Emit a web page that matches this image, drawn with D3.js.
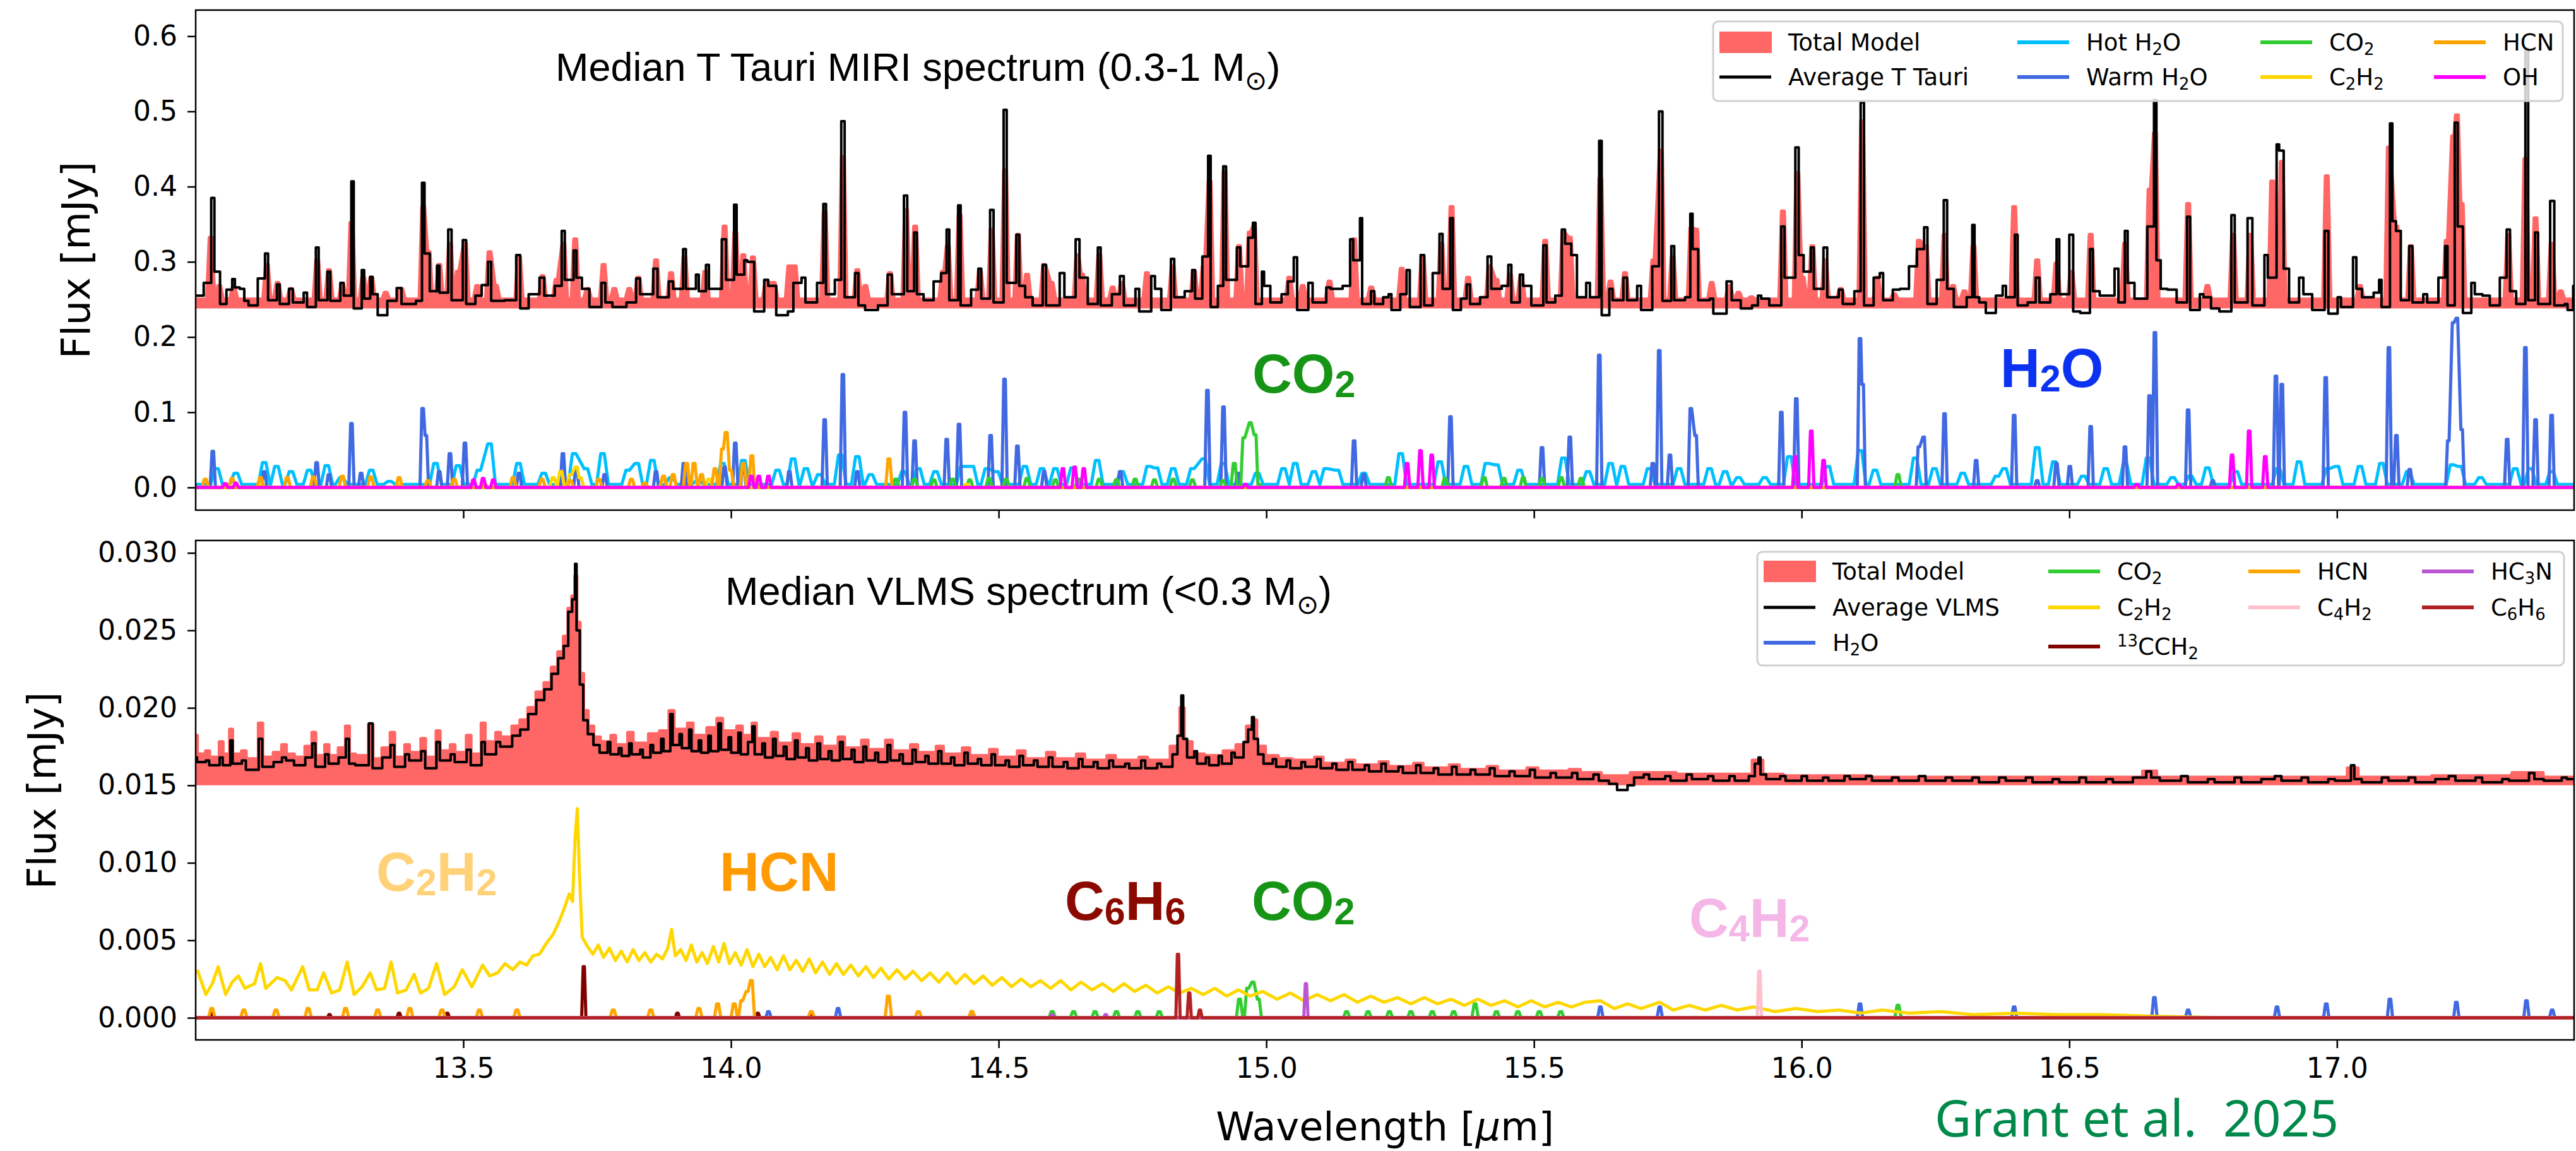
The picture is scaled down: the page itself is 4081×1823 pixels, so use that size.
<!DOCTYPE html>
<html>
<head>
<meta charset="utf-8">
<script src="https://d3js.org/d3.v7.min.js"></script>
<style>
  body { margin: 0; background: #fff; }
  svg { display: block; }
</style>
</head>
<body>
<script>
// ---------- data (wavelength in micron, flux in mJy) ----------
var xTicks = [13.5, 14.0, 14.5, 15.0, 15.5, 16.0, 16.5, 17.0];
var yTicksTop = [0.0, 0.1, 0.2, 0.3, 0.4, 0.5, 0.6];
var yTicksBot = [0.000, 0.005, 0.010, 0.015, 0.020, 0.025, 0.030];

// average T Tauri spectrum (black)
var tTauriObs = [
 [13.000,0.255],[13.020,0.272],[13.032,0.385],[13.044,0.287],[13.050,0.244],[13.060,0.263],[13.071,0.277],[13.080,0.266],[13.089,0.264],[13.096,0.248],[13.107,0.242],[13.119,0.278],[13.133,0.311],[13.142,0.249],[13.155,0.270],[13.163,0.244],[13.178,0.264],[13.192,0.246],[13.205,0.259],[13.217,0.240],[13.227,0.319],[13.238,0.249],[13.249,0.287],[13.259,0.248],[13.274,0.272],[13.284,0.255],[13.293,0.407],[13.302,0.238],[13.313,0.289],[13.320,0.251],[13.328,0.280],[13.338,0.257],[13.346,0.229],[13.362,0.248],[13.380,0.265],[13.398,0.244],[13.416,0.248],[13.425,0.405],[13.435,0.311],[13.444,0.261],[13.453,0.295],[13.462,0.259],[13.475,0.343],[13.487,0.249],[13.503,0.329],[13.512,0.244],[13.526,0.255],[13.537,0.269],[13.549,0.300],[13.561,0.248],[13.583,0.249],[13.604,0.309],[13.613,0.238],[13.625,0.257],[13.648,0.279],[13.661,0.255],[13.674,0.268],[13.687,0.341],[13.697,0.276],[13.709,0.315],[13.718,0.279],[13.732,0.264],[13.746,0.240],[13.762,0.272],[13.775,0.246],[13.789,0.240],[13.810,0.246],[13.827,0.278],[13.839,0.257],[13.860,0.291],[13.871,0.253],[13.888,0.274],[13.903,0.264],[13.913,0.317],[13.924,0.264],[13.938,0.283],[13.945,0.261],[13.956,0.296],[13.967,0.264],[13.988,0.330],[13.999,0.276],[14.008,0.376],[14.018,0.283],[14.027,0.302],[14.041,0.300],[14.050,0.234],[14.066,0.276],[14.080,0.268],[14.098,0.229],[14.109,0.234],
 [14.119,0.272],[14.136,0.279],[14.148,0.246],[14.165,0.272],[14.175,0.377],[14.185,0.257],[14.197,0.276],[14.209,0.487],[14.222,0.253],[14.235,0.285],[14.247,0.242],[14.261,0.236],[14.279,0.242],[14.297,0.283],[14.311,0.257],[14.327,0.388],[14.336,0.261],[14.344,0.339],[14.357,0.257],[14.368,0.249],[14.382,0.274],[14.396,0.285],[14.405,0.343],[14.416,0.249],[14.427,0.375],[14.435,0.242],[14.453,0.263],[14.465,0.291],[14.475,0.251],[14.487,0.369],[14.501,0.246],[14.512,0.502],[14.524,0.272],[14.536,0.336],[14.546,0.268],[14.560,0.253],[14.574,0.242],[14.585,0.296],[14.599,0.242],[14.619,0.285],[14.634,0.253],[14.647,0.330],[14.663,0.279],[14.677,0.244],[14.688,0.319],[14.698,0.242],[14.716,0.257],[14.730,0.281],[14.745,0.242],[14.759,0.264],[14.773,0.234],[14.789,0.281],[14.801,0.264],[14.812,0.236],[14.825,0.304],[14.837,0.253],[14.851,0.261],[14.865,0.289],[14.873,0.251],[14.883,0.307],[14.894,0.441],[14.902,0.240],[14.912,0.268],[14.922,0.427],[14.933,0.276],[14.949,0.319],[14.958,0.294],[14.969,0.332],[14.977,0.352],[14.988,0.244],[14.993,0.287],[15.004,0.268],[15.018,0.246],[15.032,0.257],[15.043,0.274],[15.054,0.306],[15.068,0.236],[15.082,0.272],[15.100,0.246],[15.116,0.266],[15.132,0.264],[15.146,0.268],[15.160,0.330],[15.169,0.302],[15.177,0.358],[15.185,0.244],[15.199,0.261],[15.210,0.244],[15.221,0.253],
 [15.231,0.257],[15.242,0.236],[15.253,0.257],[15.265,0.289],[15.277,0.240],[15.292,0.309],[15.304,0.242],[15.313,0.285],[15.327,0.337],[15.336,0.264],[15.346,0.358],[15.356,0.236],[15.366,0.251],[15.377,0.270],[15.391,0.244],[15.402,0.253],[15.417,0.307],[15.430,0.264],[15.443,0.268],[15.455,0.296],[15.466,0.246],[15.476,0.283],[15.491,0.268],[15.507,0.242],[15.521,0.322],[15.530,0.246],[15.543,0.255],[15.555,0.343],[15.567,0.324],[15.578,0.309],[15.587,0.253],[15.601,0.272],[15.615,0.253],[15.624,0.461],[15.634,0.229],[15.643,0.264],[15.658,0.249],[15.670,0.279],[15.686,0.249],[15.695,0.268],[15.715,0.236],[15.723,0.294],[15.737,0.500],[15.749,0.248],[15.759,0.321],[15.771,0.249],[15.786,0.253],[15.794,0.364],[15.803,0.317],[15.818,0.249],[15.832,0.251],[15.844,0.231],[15.865,0.274],[15.882,0.249],[15.899,0.238],[15.910,0.242],[15.921,0.255],[15.935,0.251],[15.953,0.242],[15.965,0.347],[15.977,0.279],[15.992,0.452],[16.002,0.309],[16.009,0.287],[16.020,0.319],[16.031,0.264],[16.044,0.319],[16.059,0.253],[16.073,0.263],[16.088,0.244],[16.102,0.261],[16.113,0.512],[16.127,0.242],[16.137,0.279],[16.149,0.285],[16.162,0.249],[16.173,0.263],[16.187,0.264],[16.205,0.294],[16.219,0.317],[16.232,0.346],[16.244,0.244],[16.255,0.276],[16.269,0.382],[16.280,0.264],[16.297,0.240],[16.312,0.253],[16.321,0.349],[16.329,0.253],
 [16.340,0.246],[16.356,0.232],[16.365,0.255],[16.379,0.268],[16.390,0.253],[16.401,0.336],[16.411,0.242],[16.426,0.246],[16.441,0.279],[16.454,0.246],[16.468,0.257],[16.479,0.330],[16.488,0.257],[16.504,0.336],[16.517,0.234],[16.531,0.232],[16.541,0.317],[16.553,0.261],[16.568,0.255],[16.590,0.291],[16.597,0.246],[16.606,0.341],[16.618,0.272],[16.633,0.251],[16.650,0.347],[16.661,0.515],[16.668,0.302],[16.679,0.264],[16.697,0.263],[16.711,0.246],[16.723,0.360],[16.734,0.236],[16.747,0.257],[16.761,0.253],[16.776,0.238],[16.793,0.234],[16.806,0.362],[16.818,0.246],[16.838,0.358],[16.854,0.242],[16.868,0.309],[16.879,0.279],[16.890,0.456],[16.898,0.448],[16.908,0.291],[16.918,0.246],[16.933,0.279],[16.950,0.257],[16.965,0.236],[16.981,0.341],[16.993,0.231],[17.004,0.253],[17.018,0.240],[17.034,0.306],[17.043,0.264],[17.058,0.253],[17.072,0.259],[17.081,0.276],[17.090,0.240],[17.102,0.484],[17.108,0.354],[17.117,0.341],[17.126,0.249],[17.138,0.321],[17.150,0.246],[17.165,0.257],[17.179,0.246],[17.193,0.279],[17.205,0.321],[17.211,0.242],[17.223,0.485],[17.233,0.347],[17.242,0.232],[17.254,0.272],[17.268,0.257],[17.283,0.255],[17.293,0.242],[17.308,0.279],[17.320,0.343],[17.333,0.261],[17.340,0.244],[17.356,0.583],[17.361,0.249],[17.373,0.339],[17.384,0.244],[17.403,0.381],[17.415,0.242],[17.429,0.244],[17.436,0.236],[17.443,0.268]
];

// total model, T Tauri: continuum level and line peaks
var tTauriModelCont = 0.250;
var tTauriModelPeaks = [
 [13.028,0.332],[13.044,0.268],[13.071,0.266],[13.133,0.296],[13.153,0.272],[13.178,0.264],[13.227,0.302],[13.249,0.289],[13.274,0.268],[13.291,0.352],[13.313,0.279],[13.328,0.279],[13.355,0.259],[13.384,0.264],[13.425,0.373],[13.435,0.313],[13.455,0.296],[13.475,0.324],[13.490,0.287],[13.503,0.324],[13.526,0.268],[13.549,0.313],[13.561,0.268],[13.604,0.306],[13.648,0.281],[13.674,0.276],[13.687,0.324],[13.709,0.330],[13.732,0.264],[13.762,0.296],[13.782,0.264],[13.810,0.264],[13.827,0.279],[13.860,0.302],[13.888,0.285],[13.913,0.306],[13.952,0.287],[13.988,0.347],[14.008,0.339],[14.023,0.309],[14.041,0.306],[14.066,0.272],[14.080,0.272],[14.109,0.294],
 [14.119,0.294],[14.175,0.366],[14.209,0.439],[14.236,0.289],[14.251,0.268],[14.297,0.285],[14.327,0.369],[14.344,0.347],[14.396,0.287],[14.405,0.321],[14.427,0.362],[14.465,0.287],[14.487,0.343],[14.512,0.422],[14.536,0.336],[14.553,0.283],[14.585,0.296],[14.599,0.272],[14.647,0.309],[14.656,0.283],[14.688,0.309],[14.713,0.266],[14.730,0.272],[14.777,0.285],[14.825,0.294],[14.865,0.287],[14.883,0.294],[14.894,0.407],[14.922,0.420],[14.949,0.321],[14.969,0.339],[14.977,0.347],[15.043,0.279],[15.068,0.268],[15.118,0.274],[15.164,0.330],[15.196,0.266],
 [15.253,0.291],[15.292,0.306],[15.327,0.324],[15.346,0.373],[15.377,0.279],[15.417,0.294],[15.430,0.276],[15.455,0.283],[15.476,0.279],[15.521,0.328],[15.555,0.339],[15.567,0.332],[15.624,0.411],[15.643,0.274],[15.670,0.285],[15.723,0.302],[15.737,0.448],[15.759,0.306],[15.794,0.345],[15.803,0.343],[15.832,0.272],[15.865,0.268],[15.882,0.259],[15.906,0.253],[15.965,0.367],[15.992,0.418],[16.002,0.279],[16.020,0.321],[16.044,0.302],[16.073,0.264],[16.113,0.487],[16.141,0.279],[16.173,0.257],[16.219,0.328],[16.232,0.321],[16.267,0.336],[16.283,0.268],[16.304,0.261],[16.321,0.321],
 [16.397,0.373],[16.440,0.302],[16.476,0.298],[16.504,0.287],[16.540,0.336],[16.604,0.324],[16.650,0.396],[16.660,0.471],[16.722,0.377],[16.758,0.268],[16.806,0.336],[16.838,0.336],[16.879,0.407],[16.897,0.433],[16.981,0.414],[17.043,0.268],[17.097,0.452],[17.111,0.347],[17.138,0.321],[17.205,0.328],[17.217,0.467],[17.224,0.495],[17.233,0.377],[17.320,0.336],[17.352,0.437],[17.371,0.358],[17.401,0.324],[17.418,0.261]
];

// T Tauri slab components (line peaks above a floor)
var hotH2OFloor = 0.004;
var hotH2O = [
 [13.039,0.025],[13.075,0.019],[13.128,0.033],[13.151,0.028],[13.178,0.021],[13.212,0.023],[13.245,0.029],[13.272,0.013],[13.328,0.023],[13.362,0.008],[13.448,0.032],[13.490,0.029],[13.529,0.023],[13.549,0.058],[13.603,0.032],[13.650,0.019],[13.707,0.045],[13.729,0.025],[13.760,0.045],[13.807,0.023],[13.824,0.032],[13.853,0.036],[13.888,0.013],[13.938,0.009],[13.984,0.032],[14.023,0.036],[14.087,0.023],
 [14.116,0.038],[14.140,0.025],[14.165,0.017],[14.204,0.043],[14.236,0.041],[14.261,0.017],[14.322,0.021],[14.350,0.025],[14.382,0.021],[14.432,0.028],[14.450,0.028],[14.478,0.025],[14.496,0.021],[14.549,0.028],[14.581,0.025],[14.606,0.025],[14.638,0.026],[14.684,0.036],[14.730,0.021],[14.780,0.028],[14.794,0.026],[14.826,0.025],[14.862,0.025],[14.883,0.038],[14.919,0.032],[14.983,0.019],[15.032,0.025],[15.054,0.032],[15.089,0.021],[15.111,0.025],[15.132,0.023],[15.182,0.019],
 [15.251,0.045],[15.324,0.034],[15.373,0.028],[15.412,0.032],[15.430,0.030],[15.473,0.023],[15.555,0.039],[15.601,0.021],[15.643,0.032],[15.666,0.028],[15.715,0.025],[15.771,0.025],[15.828,0.025],[15.857,0.021],[15.882,0.013],[15.931,0.013],[15.977,0.041],[16.049,0.028],[16.109,0.049],[16.137,0.023],[16.212,0.039],[16.248,0.025],[16.301,0.019],
 [16.365,0.015],[16.379,0.025],[16.440,0.053],[16.472,0.034],[16.526,0.015],[16.568,0.025],[16.604,0.032],[16.647,0.039],[16.693,0.013],[16.726,0.015],[16.758,0.026],[16.811,0.021],[16.890,0.025],[16.929,0.034],[16.983,0.025],[17.000,0.028],[17.043,0.028],[17.083,0.032],[17.133,0.021],[17.215,0.030],[17.229,0.028],[17.268,0.013],[17.333,0.025],[17.361,0.025],[17.401,0.021]
];
var warmH2O = [
 [13.032,0.048],[13.128,0.021],[13.226,0.033],[13.249,0.017],[13.291,0.085],[13.309,0.019],[13.424,0.105],[13.430,0.069],[13.455,0.021],[13.475,0.045],[13.503,0.059],[13.604,0.019],[13.686,0.045],[13.711,0.025],[13.764,0.017],[13.860,0.021],[13.912,0.032],[13.988,0.027],[14.008,0.059],[14.023,0.032],[14.109,0.021],
 [14.175,0.090],[14.209,0.150],[14.236,0.021],[14.325,0.100],[14.343,0.062],[14.403,0.064],[14.426,0.084],[14.485,0.069],[14.511,0.144],[14.535,0.055],[14.585,0.021],[14.727,0.021],[14.890,0.129],[14.920,0.107],[14.947,0.019],[15.164,0.062],[15.182,0.017],
 [15.344,0.094],[15.515,0.053],[15.567,0.067],[15.622,0.176],[15.722,0.032],[15.734,0.182],[15.754,0.043],[15.793,0.105],[15.802,0.069],[15.962,0.100],[15.990,0.118],[16.109,0.198],[16.114,0.137],[16.219,0.054],[16.228,0.067],[16.267,0.098],[16.326,0.036],
 [16.397,0.096],[16.440,0.009],[16.476,0.032],[16.501,0.028],[16.540,0.081],[16.604,0.054],[16.650,0.122],[16.660,0.206],[16.722,0.103],[16.768,0.009],[16.886,0.148],[16.897,0.137],[16.979,0.146],[17.097,0.186],[17.111,0.069],[17.136,0.024],[17.208,0.062],[17.217,0.219],[17.224,0.225],[17.233,0.077],[17.318,0.064],[17.352,0.186],[17.371,0.090],[17.401,0.096]
];
var co2Top = [
 [14.308,0.011],[14.343,0.011],[14.379,0.010],[14.414,0.011],[14.446,0.010],[14.482,0.012],[14.514,0.011],[14.553,0.012],[14.606,0.010],[14.649,0.011],[14.688,0.011],[14.720,0.010],[14.755,0.011],[14.791,0.010],[14.826,0.011],[14.862,0.010],[14.919,0.009],[14.940,0.032],[14.958,0.066],[14.970,0.086],[14.979,0.070],[14.986,0.004],
 [15.228,0.013],[15.334,0.012],[15.407,0.013],[15.444,0.012],[15.480,0.013],[15.515,0.012],[15.551,0.013],[15.588,0.012],[16.180,0.017]
];
var c2h2Top = [
 [13.120,0.005],[13.380,0.005],[13.668,0.013],[13.682,0.021],[13.700,0.017],[13.711,0.027],[13.718,0.013],[13.874,0.013],[13.959,0.011],[14.440,0.004]
];
var hcnTop = [
 [13.018,0.011],[13.068,0.012],[13.121,0.013],[13.171,0.013],[13.220,0.014],[13.274,0.015],[13.327,0.014],[13.380,0.013],[13.434,0.009],[13.483,0.011],[13.540,0.004],[13.593,0.013],[13.647,0.011],[13.700,0.009],[13.753,0.011],[13.814,0.011],
 [13.839,0.006],[13.874,0.015],[13.892,0.017],[13.917,0.032],[13.931,0.032],[13.945,0.017],[13.970,0.025],[13.984,0.051],[13.991,0.073],[13.999,0.023],[14.023,0.032],[14.039,0.042],[14.045,0.009],[14.295,0.038]
];
var ohTop = [
 [13.055,0.005],[13.075,0.006],[13.519,0.010],[13.537,0.012],[13.556,0.010],[14.038,0.015],[14.052,0.015],[14.070,0.015],[14.620,0.025],[14.642,0.027],[14.659,0.025],[14.961,0.004],
 [15.263,0.032],[15.288,0.049],[15.309,0.043],[15.988,0.041],[16.018,0.075],[16.041,0.036],[16.626,0.004],[16.704,0.004],[16.804,0.043],[16.836,0.075],[16.866,0.041]
];

// average VLMS spectrum (black) and its total model (red)
var vlmsObs = [
 [13.000,0.0168],[13.010,0.0165],[13.022,0.0166],[13.035,0.0163],[13.048,0.0168],[13.058,0.0163],[13.067,0.0179],[13.075,0.0164],[13.090,0.0166],[13.105,0.0160],[13.122,0.0180],[13.132,0.0162],[13.150,0.0165],[13.165,0.0168],[13.180,0.0166],[13.195,0.0163],[13.208,0.0168],[13.221,0.0177],[13.232,0.0162],[13.245,0.0170],[13.258,0.0164],[13.270,0.0168],[13.284,0.0180],[13.294,0.0164],[13.310,0.0163],[13.328,0.0190],[13.338,0.0161],[13.352,0.0168],[13.368,0.0176],[13.380,0.0162],[13.395,0.0170],[13.410,0.0166],[13.425,0.0172],[13.440,0.0161],[13.453,0.0178],[13.465,0.0166],[13.480,0.0170],[13.495,0.0165],[13.510,0.0173],[13.525,0.0163],[13.537,0.0178],[13.550,0.0170],[13.565,0.0178],[13.580,0.0175],[13.595,0.0182],[13.610,0.0186],[13.625,0.0196],[13.640,0.0205],[13.655,0.0212],[13.668,0.0222],[13.680,0.0232],[13.690,0.0240],[13.698,0.0262],[13.705,0.0270],[13.710,0.0293],[13.716,0.0250],[13.722,0.0215],[13.730,0.0192],[13.740,0.0183],
 [13.752,0.0176],[13.762,0.0171],[13.772,0.0178],[13.782,0.0170],[13.793,0.0174],[13.803,0.0169],[13.812,0.0177],[13.822,0.0170],[13.833,0.0173],[13.842,0.0168],[13.852,0.0176],[13.862,0.0171],[13.872,0.0180],[13.880,0.0172],[13.889,0.0196],[13.897,0.0176],[13.906,0.0183],[13.915,0.0174],[13.924,0.0186],[13.933,0.0172],[13.942,0.0179],[13.951,0.0171],[13.960,0.0182],[13.969,0.0172],[13.979,0.0190],[13.988,0.0173],[13.998,0.0181],[14.007,0.0171],[14.016,0.0184],[14.025,0.0170],[14.034,0.0178],[14.042,0.0188],[14.051,0.0170],[14.061,0.0177],[14.071,0.0168],[14.081,0.0180],[14.091,0.0169],[14.101,0.0175],[14.112,0.0167],[14.122,0.0179],[14.132,0.0168],[14.143,0.0174],[14.153,0.0166],[14.164,0.0177],[14.174,0.0167],[14.185,0.0172],[14.196,0.0166],[14.206,0.0178],[14.217,0.0167],[14.228,0.0173],[14.239,0.0165],[14.250,0.0175],[14.261,0.0166],[14.272,0.0171],[14.284,0.0165],[14.295,0.0176],[14.306,0.0166],[14.318,0.0170],[14.330,0.0164],[14.342,0.0173],[14.354,0.0165],[14.366,0.0169],[14.378,0.0164],[14.390,0.0172],[14.402,0.0164],[14.414,0.0168],[14.427,0.0163],[14.439,0.0171],[14.452,0.0164],[14.464,0.0167],[14.477,0.0163],[14.490,0.0170],[14.503,0.0163],[14.516,0.0166],[14.529,0.0162],[14.542,0.0169],[14.556,0.0163],[14.569,0.0166],[14.583,0.0162],[14.597,0.0168],[14.611,0.0162],[14.625,0.0165],[14.639,0.0161],[14.653,0.0167],[14.667,0.0162],[14.681,0.0165],[14.696,0.0161],[14.710,0.0166],[14.725,0.0162],[14.740,0.0164],[14.755,0.0161],[14.770,0.0166],[14.785,0.0161],[14.800,0.0164],[14.815,0.0162],[14.828,0.0170],[14.836,0.0182],[14.843,0.0208],[14.850,0.0180],[14.858,0.0168],[14.868,0.0172],[14.878,0.0164],[14.890,0.0168],[14.902,0.0163],[14.914,0.0169],[14.926,0.0164],[14.938,0.0171],[14.950,0.0168],[14.960,0.0178],[14.968,0.0186],[14.975,0.0194],[14.982,0.0180],[14.992,0.0170],[15.003,0.0164],
 [15.015,0.0167],[15.028,0.0162],[15.041,0.0166],[15.055,0.0161],[15.069,0.0165],[15.083,0.0162],[15.098,0.0167],[15.112,0.0161],[15.127,0.0164],[15.142,0.0160],[15.157,0.0165],[15.172,0.0160],[15.188,0.0163],[15.203,0.0159],[15.219,0.0164],[15.235,0.0159],[15.251,0.0162],[15.267,0.0158],[15.284,0.0163],[15.300,0.0158],[15.317,0.0161],[15.334,0.0157],[15.351,0.0162],[15.368,0.0157],[15.386,0.0160],[15.404,0.0157],[15.422,0.0161],[15.440,0.0156],[15.459,0.0159],[15.478,0.0156],[15.497,0.0160],[15.516,0.0155],[15.536,0.0158],[15.556,0.0155],[15.576,0.0158],[15.596,0.0154],[15.616,0.0157],[15.636,0.0153],[15.652,0.0151],[15.665,0.0147],[15.678,0.0150],[15.690,0.0155],
 [15.710,0.0157],[15.730,0.0154],[15.750,0.0156],[15.770,0.0153],[15.790,0.0157],[15.810,0.0154],[15.830,0.0156],[15.850,0.0153],[15.870,0.0156],[15.890,0.0153],[15.905,0.0156],[15.915,0.0164],[15.921,0.0168],[15.930,0.0157],[15.945,0.0154],[15.965,0.0156],[15.985,0.0153],[16.005,0.0156],[16.025,0.0153],[16.045,0.0155],[16.065,0.0153],[16.085,0.0156],[16.105,0.0154],[16.125,0.0156],[16.150,0.0153],[16.175,0.0155],[16.200,0.0153],[16.225,0.0156],[16.250,0.0153],[16.275,0.0155],[16.300,0.0153],[16.325,0.0155],[16.350,0.0152],[16.375,0.0155],[16.400,0.0153],[16.425,0.0155],[16.450,0.0152],[16.475,0.0154],[16.500,0.0152],[16.525,0.0155],[16.550,0.0152],[16.575,0.0154],[16.600,0.0152],[16.625,0.0155],[16.650,0.0159],[16.662,0.0155],[16.690,0.0153],[16.715,0.0156],[16.740,0.0152],[16.765,0.0154],[16.790,0.0152],[16.815,0.0155],[16.840,0.0152],[16.865,0.0154],[16.890,0.0156],[16.915,0.0153],[16.940,0.0155],[16.965,0.0152],[16.990,0.0154],[17.015,0.0153],[17.030,0.0163],[17.040,0.0154],[17.065,0.0152],[17.090,0.0155],[17.115,0.0153],[17.140,0.0155],[17.165,0.0152],[17.190,0.0154],[17.215,0.0156],[17.240,0.0153],[17.265,0.0155],[17.290,0.0152],[17.315,0.0154],[17.340,0.0153],[17.365,0.0158],[17.380,0.0154],[17.405,0.0153],[17.425,0.0155],[17.443,0.0154]
];
var vlmsModel = [
 [13.000,0.0182],[13.010,0.0170],[13.022,0.0172],[13.035,0.0168],[13.048,0.0178],[13.058,0.0170],[13.066,0.0186],[13.075,0.0170],[13.090,0.0172],[13.105,0.0167],[13.122,0.0190],[13.132,0.0168],[13.150,0.0171],[13.165,0.0176],[13.180,0.0170],[13.195,0.0168],[13.208,0.0175],[13.221,0.0184],[13.232,0.0169],[13.245,0.0176],[13.258,0.0169],[13.270,0.0174],[13.284,0.0188],[13.294,0.0170],[13.310,0.0169],[13.328,0.0189],[13.338,0.0167],[13.352,0.0174],[13.368,0.0184],[13.380,0.0168],[13.395,0.0176],[13.410,0.0171],[13.425,0.0180],[13.440,0.0168],[13.453,0.0185],[13.465,0.0172],[13.480,0.0176],[13.495,0.0171],[13.510,0.0182],[13.525,0.0170],[13.537,0.0190],[13.550,0.0178],[13.565,0.0184],[13.580,0.0181],[13.595,0.0188],[13.610,0.0192],[13.625,0.0200],[13.640,0.0210],[13.655,0.0216],[13.668,0.0226],[13.680,0.0236],[13.690,0.0246],[13.698,0.0264],[13.705,0.0272],[13.710,0.0285],[13.716,0.0255],[13.722,0.0222],[13.730,0.0198],[13.740,0.0188],[13.752,0.0181],
 [13.765,0.0178],[13.780,0.0182],[13.795,0.0176],[13.812,0.0184],[13.830,0.0177],[13.852,0.0183],[13.872,0.0185],[13.889,0.0198],[13.905,0.0186],[13.924,0.0190],[13.942,0.0182],[13.960,0.0187],[13.979,0.0193],[13.998,0.0185],[14.016,0.0188],[14.034,0.0182],[14.042,0.0190],[14.061,0.0180],[14.081,0.0184],[14.101,0.0177],[14.122,0.0183],[14.143,0.0176],[14.164,0.0181],[14.185,0.0175],[14.206,0.0181],[14.228,0.0174],[14.250,0.0179],[14.272,0.0173],[14.295,0.0179],[14.318,0.0172],[14.342,0.0176],[14.366,0.0171],[14.390,0.0175],[14.414,0.0170],[14.439,0.0174],[14.464,0.0169],[14.490,0.0173],[14.516,0.0168],[14.542,0.0172],[14.569,0.0167],[14.597,0.0171],[14.625,0.0167],[14.653,0.0170],[14.681,0.0166],[14.710,0.0169],[14.740,0.0166],[14.770,0.0168],[14.800,0.0166],[14.828,0.0175],[14.843,0.0200],[14.855,0.0178],[14.878,0.0170],[14.902,0.0169],[14.926,0.0172],[14.950,0.0176],[14.968,0.0188],[14.978,0.0192],[14.992,0.0175],
 [15.015,0.0169],[15.041,0.0167],[15.069,0.0166],[15.098,0.0168],[15.127,0.0164],[15.157,0.0166],[15.188,0.0163],[15.219,0.0165],[15.251,0.0162],[15.284,0.0164],[15.317,0.0161],[15.351,0.0163],[15.386,0.0160],[15.422,0.0162],[15.459,0.0159],[15.497,0.0161],[15.536,0.0159],[15.576,0.0160],[15.616,0.0158],[15.652,0.0156],[15.690,0.0158],[15.750,0.0158],[15.810,0.0157],[15.870,0.0157],[15.921,0.0166],[15.945,0.0157],[16.025,0.0156],[16.105,0.0156],[16.200,0.0155],[16.300,0.0155],[16.400,0.0155],[16.500,0.0155],[16.600,0.0155],[16.650,0.0159],[16.700,0.0155],[16.850,0.0155],[16.990,0.0155],[17.030,0.0161],[17.065,0.0155],[17.215,0.0156],[17.365,0.0158],[17.443,0.0155]
];

// VLMS slab components
var c2h2Bot = [
 [13.003,0.0031],[13.019,0.0015],[13.031,0.0022],[13.042,0.0033],[13.056,0.0015],[13.068,0.0023],[13.080,0.0027],[13.092,0.0019],[13.110,0.0022],[13.121,0.0035],[13.131,0.0019],[13.152,0.0026],[13.167,0.0024],[13.179,0.0018],[13.200,0.0033],[13.212,0.0018],[13.227,0.0018],[13.239,0.0029],[13.254,0.0016],[13.269,0.0018],[13.283,0.0036],[13.296,0.0015],[13.311,0.0020],[13.326,0.0029],[13.338,0.0018],[13.353,0.0019],[13.365,0.0036],[13.377,0.0016],[13.393,0.0018],[13.408,0.0028],[13.420,0.0016],[13.435,0.0019],[13.450,0.0035],[13.465,0.0015],[13.483,0.0020],[13.498,0.0031],[13.516,0.0020],[13.536,0.0034],[13.549,0.0027],[13.564,0.0029],[13.578,0.0035],
 [13.592,0.0031],[13.606,0.0036],[13.618,0.0034],[13.630,0.0040],[13.642,0.0041],[13.655,0.0048],[13.668,0.0054],[13.680,0.0063],[13.690,0.0072],[13.698,0.0080],[13.704,0.0075],[13.709,0.0118],[13.713,0.0135],[13.717,0.0092],[13.722,0.0052],[13.732,0.0046],[13.742,0.0041],[13.752,0.0047],[13.762,0.0039],[13.773,0.0045],[13.784,0.0037],[13.795,0.0043],[13.806,0.0036],[13.817,0.0044],[13.828,0.0037],[13.839,0.0042],[13.850,0.0036],[13.861,0.0041],[13.872,0.0038],[13.882,0.0045],[13.889,0.0057],[13.896,0.0040],[13.906,0.0044],[13.916,0.0037],[13.926,0.0047],[13.936,0.0036],[13.946,0.0042],[13.956,0.0035],[13.967,0.0046],[13.977,0.0036],[13.987,0.0048],[13.997,0.0035],[14.008,0.0042],[14.019,0.0034],[14.030,0.0044],[14.041,0.0033],[14.052,0.0041],[14.063,0.0033],[14.074,0.0039],[14.086,0.0031],[14.098,0.0040],[14.110,0.0031],[14.122,0.0037],[14.134,0.0030],[14.146,0.0038],[14.158,0.0029],[14.171,0.0036],[14.184,0.0028],[14.197,0.0035],[14.210,0.0028],[14.224,0.0034],[14.238,0.0027],[14.252,0.0033],[14.266,0.0026],[14.280,0.0032],[14.295,0.0025],[14.310,0.0031],[14.325,0.0025],[14.340,0.0030],[14.356,0.0024],[14.372,0.0029],[14.388,0.0023],[14.404,0.0029],[14.420,0.0022],[14.437,0.0028],[14.454,0.0022],[14.471,0.0027],[14.488,0.0021],[14.506,0.0026],[14.524,0.0020],[14.542,0.0025],[14.560,0.0020],[14.578,0.0024],[14.597,0.0019],[14.616,0.0024],[14.635,0.0018],[14.654,0.0023],[14.674,0.0018],[14.694,0.0022],[14.714,0.0017],[14.734,0.0022],[14.754,0.0017],[14.775,0.0021],[14.796,0.0016],[14.817,0.0020],[14.838,0.0016],[14.860,0.0019],[14.882,0.0015],[14.904,0.0019],[14.926,0.0014],[14.948,0.0018],[14.970,0.0014],[14.993,0.0017],
 [15.020,0.0012],[15.045,0.0016],[15.070,0.0011],[15.095,0.0015],[15.120,0.0011],[15.145,0.0015],[15.170,0.0010],[15.195,0.0014],[15.220,0.0010],[15.245,0.0013],[15.270,0.0009],[15.295,0.0013],[15.320,0.0009],[15.345,0.0012],[15.370,0.0008],[15.395,0.0012],[15.420,0.0008],[15.445,0.0011],[15.470,0.0007],[15.495,0.0011],[15.520,0.0007],[15.545,0.0010],[15.570,0.0007],[15.595,0.0010],[15.624,0.0011],[15.650,0.0006],[15.675,0.0009],[15.700,0.0006],[15.735,0.0010],[15.760,0.0005],[15.790,0.0008],[15.820,0.0005],[15.850,0.0008],[15.880,0.0005],[15.910,0.0007],[15.950,0.0004],[15.990,0.0006],[16.030,0.0004],[16.070,0.0005],[16.110,0.0003],[16.150,0.0005],[16.200,0.0003],[16.260,0.0004],[16.320,0.0002],[16.400,0.0003],[16.480,0.0002],[16.560,0.0002],[16.650,0.0001],[16.800,0.0000],[17.443,0.0000]
];
var h2oBot = [
 [14.070,0.0004],[14.200,0.0006],[14.450,0.0004],[15.624,0.0007],[15.735,0.0007],[16.109,0.0009],[16.397,0.0007],[16.659,0.0013],[16.722,0.0005],[16.888,0.0007],[16.980,0.0009],[17.099,0.0012],[17.223,0.0010],[17.354,0.0011],[17.402,0.0005]
];
var co2Bot = [
 [14.600,0.0004],[14.640,0.0004],[14.680,0.0004],[14.720,0.0004],[14.760,0.0004],[14.800,0.0004],[14.950,0.0012],[14.965,0.0019],[14.975,0.0023],[14.985,0.0012],[15.150,0.0004],[15.190,0.0004],[15.230,0.0004],[15.270,0.0004],[15.310,0.0004],[15.350,0.0004],[15.390,0.0009],[15.430,0.0004],[15.470,0.0004],[15.510,0.0004],[15.550,0.0004],[16.180,0.0008]
];
var c13Bot = [
 [13.030,0.0003],[13.250,0.0002],[13.380,0.0003],[13.470,0.0003],[13.725,0.0033],[13.900,0.0003],[14.050,0.0003],[14.150,0.0002]
];
var hcnBot = [
 [13.030,0.0006],[13.090,0.0005],[13.150,0.0005],[13.210,0.0006],[13.280,0.0006],[13.340,0.0005],[13.400,0.0006],[13.460,0.0005],[13.530,0.0005],[13.600,0.0005],[13.780,0.0005],[13.850,0.0005],[13.940,0.0006],[13.975,0.0009],[14.006,0.0009],[14.020,0.0011],[14.030,0.0017],[14.038,0.0024],[14.150,0.0004],[14.294,0.0014],[14.350,0.0004],[14.450,0.0004]
];
var c4h2Bot = [[15.921,0.0030]];
var hc3nBot = [[14.600,0.0002],[14.700,0.0002],[15.074,0.0022]];
var c6h6Bot = [[14.835,0.0041],[14.856,0.0016],[14.876,0.0005]];

// ---------- layout ----------
var width = 4081, height = 1823;
var left = 310, right = 4078;
var topPanel = { y0: 16, y1: 808 }, botPanel = { y0: 856, y1: 1647 };

var svg = d3.select("body").append("svg")
    .attr("width", width)
    .attr("height", height)
    .style("background", "#fff");

var x = d3.scaleLinear().domain([13.0, 17.443]).range([left, right]);
var yTop = d3.scaleLinear().domain([-0.0302, 0.6347]).range([topPanel.y1, topPanel.y0]);
var yBot = d3.scaleLinear().domain([-0.001426, 0.030803]).range([botPanel.y1, botPanel.y0]);

var defs = svg.append("defs");
[["clipTop", topPanel], ["clipBot", botPanel]].forEach(function (c) {
    defs.append("clipPath").attr("id", c[0]).append("rect")
        .attr("x", left).attr("y", c[1].y0)
        .attr("width", right - left).attr("height", c[1].y1 - c[1].y0);
});

// line peaks drawn as narrow profiles on top of a base level
function spikes(peaks, base, w) {
    var s = peaks.slice().sort(function (a, b) { return a[0] - b[0]; });
    var pts = [[13.0, base]];
    s.forEach(function (p, i) {
        var prev = s[i - 1], next = s[i + 1];
        if (!prev || prev[0] + w < p[0] - w) pts.push([p[0] - w, base]);
        pts.push([p[0] - 0.3 * w, p[1]]);
        pts.push([p[0] + 0.3 * w, p[1]]);
        if (!next || p[0] + w < next[0] - w) pts.push([p[0] + w, base]);
    });
    pts.push([17.443, base]);
    return pts;
}

// step drawing where the higher sample keeps the narrower step (spiky spectrum look)
function steps(pts) {
    var out = [];
    pts.forEach(function (a, i) {
        var b = pts[i + 1];
        out.push(a);
        if (!b) return;
        var t = a[1] > b[1] ? a[0] + 0.25 * (b[0] - a[0]) : b[0] - 0.25 * (b[0] - a[0]);
        out.push([t, a[1]], [t, b[1]]);
    });
    return out;
}

function drawLine(g, y, pts, color, sw) {
    g.append("path")
        .attr("d", d3.line().x(function (d) { return x(d[0]); }).y(function (d) { return y(d[1]); })(pts))
        .attr("fill", "none")
        .attr("stroke", color)
        .attr("stroke-width", sw)
        .attr("stroke-linejoin", "round");
}

function drawModel(g, y, pts, base) {
    g.append("path")
        .attr("d", d3.area().x(function (d) { return x(d[0]); }).y0(y(base)).y1(function (d) { return y(d[1]); })(pts))
        .attr("fill", "#ff6666");
    drawLine(g, y, pts, "#ff6666", 6);
}

// ---------- top panel ----------
var gTop = svg.append("g").attr("clip-path", "url(#clipTop)");
drawModel(gTop, yTop, spikes(tTauriModelPeaks, tTauriModelCont, 0.007), 0.238);
drawLine(gTop, yTop, steps(tTauriObs), "#000", 4);
drawLine(gTop, yTop, spikes(hotH2O, hotH2OFloor, 0.011), "#00bfff", 5);
drawLine(gTop, yTop, spikes(warmH2O, 0, 0.005), "#4169e1", 5);
drawLine(gTop, yTop, spikes(co2Top, 0, 0.006), "#32cd32", 5);
drawLine(gTop, yTop, spikes(c2h2Top, 0, 0.007), "#ffd700", 5);
drawLine(gTop, yTop, spikes(hcnTop, 0, 0.006), "#ffa500", 5);
drawLine(gTop, yTop, spikes(ohTop, 0, 0.005), "#ff00ff", 5);

// ---------- bottom panel ----------
var gBot = svg.append("g").attr("clip-path", "url(#clipBot)");
drawModel(gBot, yBot, steps(vlmsModel), 0.0150);
drawLine(gBot, yBot, steps(vlmsObs), "#000", 4);
drawLine(gBot, yBot, spikes(h2oBot, 0, 0.005), "#4169e1", 5);
drawLine(gBot, yBot, spikes(co2Bot, 0, 0.006), "#32cd32", 5);
drawLine(gBot, yBot, c2h2Bot, "#ffd700", 5);
drawLine(gBot, yBot, spikes(c13Bot, 0, 0.004), "#800000", 5);
drawLine(gBot, yBot, spikes(hcnBot, 0, 0.006), "#ffa500", 5);
drawLine(gBot, yBot, spikes(c4h2Bot, 0, 0.004), "#ffc0cb", 5);
drawLine(gBot, yBot, spikes(hc3nBot, 0, 0.004), "#ba55d3", 5);
drawLine(gBot, yBot, spikes(c6h6Bot, 0, 0.004), "#b22222", 5);

// ---------- axes ----------
function drawAxes(y, panel, ticks, fmt, showX) {
    var gy = svg.append("g").attr("transform", "translate(" + left + ",0)")
        .call(d3.axisLeft(y).tickValues(ticks).tickFormat(d3.format(fmt)).tickSize(13).tickPadding(16));
    var gx = svg.append("g").attr("transform", "translate(0," + panel.y1 + ")")
        .call(d3.axisBottom(x).tickValues(xTicks).tickFormat(showX ? d3.format(".1f") : function () { return ""; }).tickSize(13).tickPadding(16));
    [gy, gx].forEach(function (g) {
        g.select(".domain").remove();
        g.attr("font-family", "DejaVu Sans").attr("font-size", 44);
        g.selectAll("line").attr("stroke", "#000").attr("stroke-width", 2.5);
        g.selectAll("text").attr("fill", "#000");
    });
    svg.append("rect")
        .attr("x", left).attr("y", panel.y0)
        .attr("width", right - left).attr("height", panel.y1 - panel.y0)
        .attr("fill", "none").attr("stroke", "#000").attr("stroke-width", 2.5);
}
drawAxes(yTop, topPanel, yTicksTop, ".1f", false);
drawAxes(yBot, botPanel, yTicksBot, ".3f", true);

svg.append("text").attr("transform", "translate(120,412) rotate(-90)")
    .attr("text-anchor", "middle").attr("dominant-baseline", "central")
    .attr("font-family", "DejaVu Sans").attr("font-size", 62).text("Flux [mJy]");
svg.append("text").attr("transform", "translate(66,1252) rotate(-90)")
    .attr("text-anchor", "middle").attr("dominant-baseline", "central")
    .attr("font-family", "DejaVu Sans").attr("font-size", 62).text("Flux [mJy]");
var xl = svg.append("text").attr("x", (left + right) / 2).attr("y", 1806)
    .attr("text-anchor", "middle")
    .attr("font-family", "DejaVu Sans").attr("font-size", 62);
xl.append("tspan").text("Wavelength [");
xl.append("tspan").attr("font-style", "italic").text("\u03bc");
xl.append("tspan").text("m]");

// ---------- text helpers ----------
function rich(sel, parts, size, subShift, subScale) {
    var off = 0;
    parts.forEach(function (p) {
        var target = p[1] === "sub" ? subShift : p[1] === "sup" ? -size * 0.36 : 0;
        sel.append("tspan")
            .attr("dy", target - off)
            .attr("font-size", p[1] ? size * subScale : size)
            .text(p[0]);
        off = target;
    });
}

function label(xp, yp, parts, opts) {
    var t = svg.append("text").attr("x", xp).attr("y", yp)
        .attr("font-family", opts.family).attr("font-size", opts.size)
        .attr("font-weight", opts.weight || "normal")
        .attr("fill", opts.color || "#000")
        .style("white-space", "pre");
    rich(t, parts, opts.size, opts.subShift, opts.subScale);
    return t;
}

// panel titles
label(880, 128, [["Median T Tauri MIRI spectrum (0.3-1 M"], ["\u2299", "sub"], [")"]],
    { family: "Liberation Sans", size: 63, subShift: 14, subScale: 0.66 });
label(1149, 958, [["Median VLMS spectrum (<0.3 M"], ["\u2299", "sub"], [")"]],
    { family: "Liberation Sans", size: 63, subShift: 14, subScale: 0.66 });

// molecule annotations
var annotations = [
    [1984, 622, [["CO"], ["2", "sub"]], "#169416"],
    [3169, 613, [["H"], ["2", "sub"], ["O"]], "#0a32f0"],
    [596, 1411, [["C"], ["2", "sub"], ["H"], ["2", "sub"]], "#ffd27a"],
    [1140, 1411, [["HCN"]], "#ff9a00"],
    [1687, 1457, [["C"], ["6", "sub"], ["H"], ["6", "sub"]], "#8b0a00"],
    [1983, 1457, [["CO"], ["2", "sub"]], "#169416"],
    [2676, 1484, [["C"], ["4", "sub"], ["H"], ["2", "sub"]], "#f5b7e8"]
];
annotations.forEach(function (a) {
    label(a[0], a[1], a[2], { family: "Liberation Sans", size: 87, weight: "bold", color: a[3], subShift: 7, subScale: 0.68 });
});

label(3065, 1800, [["Grant et al.  2025"]], { family: "Noto Sans", size: 80, color: "#00894a", subShift: 0, subScale: 1 });

// ---------- legends ----------
function legend(box, entries) {
    svg.append("rect")
        .attr("x", box.x).attr("y", box.y).attr("width", box.w).attr("height", box.h)
        .attr("rx", 8).attr("fill", "#fff").attr("fill-opacity", 0.8)
        .attr("stroke", "#d0d0d0").attr("stroke-width", 3);
    entries.forEach(function (e) {
        if (e.patch) {
            svg.append("rect").attr("x", e.x).attr("y", e.y - 17).attr("width", 83).attr("height", 34).attr("fill", e.color);
        } else {
            svg.append("line").attr("x1", e.x).attr("x2", e.x + 82).attr("y1", e.y).attr("y2", e.y)
                .attr("stroke", e.color).attr("stroke-width", e.color === "#000" ? 5 : 6);
        }
        label(e.x + 109, e.y + 13, e.text, { family: "DejaVu Sans", size: 37, subShift: 7, subScale: 0.7 });
    });
}

legend({ x: 2714, y: 34, w: 1346, h: 126 }, [
    { x: 2724, y: 67, color: "#ff6666", patch: true, text: [["Total Model"]] },
    { x: 2724, y: 122, color: "#000", text: [["Average T Tauri"]] },
    { x: 3196, y: 67, color: "#00bfff", text: [["Hot H"], ["2", "sub"], ["O"]] },
    { x: 3196, y: 122, color: "#4169e1", text: [["Warm H"], ["2", "sub"], ["O"]] },
    { x: 3581, y: 67, color: "#32cd32", text: [["CO"], ["2", "sub"]] },
    { x: 3581, y: 122, color: "#ffd700", text: [["C"], ["2", "sub"], ["H"], ["2", "sub"]] },
    { x: 3856, y: 67, color: "#ffa500", text: [["HCN"]] },
    { x: 3856, y: 122, color: "#ff00ff", text: [["OH"]] }
]);

legend({ x: 2784, y: 874, w: 1278, h: 180 }, [
    { x: 2794, y: 905, color: "#ff6666", patch: true, text: [["Total Model"]] },
    { x: 2794, y: 962, color: "#000", text: [["Average VLMS"]] },
    { x: 2794, y: 1018, color: "#4169e1", text: [["H"], ["2", "sub"], ["O"]] },
    { x: 3245, y: 905, color: "#32cd32", text: [["CO"], ["2", "sub"]] },
    { x: 3245, y: 962, color: "#ffd700", text: [["C"], ["2", "sub"], ["H"], ["2", "sub"]] },
    { x: 3245, y: 1024, color: "#800000", text: [["13", "sup"], ["CCH"], ["2", "sub"]] },
    { x: 3562, y: 905, color: "#ffa500", text: [["HCN"]] },
    { x: 3562, y: 962, color: "#ffc0cb", text: [["C"], ["4", "sub"], ["H"], ["2", "sub"]] },
    { x: 3837, y: 905, color: "#ba55d3", text: [["HC"], ["3", "sub"], ["N"]] },
    { x: 3837, y: 962, color: "#b22222", text: [["C"], ["6", "sub"], ["H"], ["6", "sub"]] }
]);
</script>
</body>
</html>
